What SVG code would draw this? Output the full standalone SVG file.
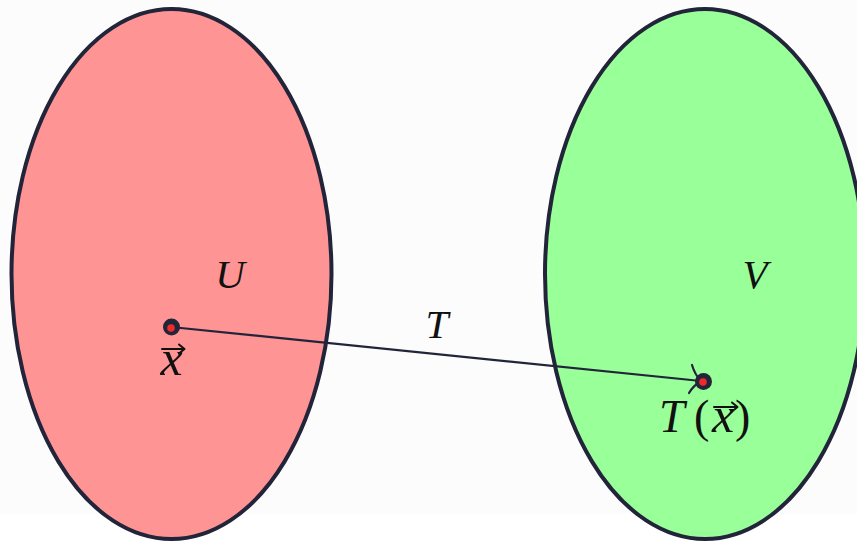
<svg xmlns="http://www.w3.org/2000/svg" width="857" height="542" viewBox="0 0 857 542">
<style>
.set{stroke:#22253a;stroke-width:4}
.lbl{font-family:"Liberation Serif","DejaVu Serif",serif;font-style:italic;font-size:41px;fill:#111;text-anchor:middle}
.big{font-family:"Liberation Serif","DejaVu Serif",serif;font-style:italic;font-size:46px;fill:#111}
.xx{font-family:"Liberation Serif","DejaVu Serif",serif;font-style:italic;font-size:50px;fill:#111;text-anchor:middle}
.up{font-family:"Liberation Serif","DejaVu Serif",serif;font-size:46px;fill:#111}
.vec{fill:none;stroke:#111;stroke-width:2;stroke-linecap:round;stroke-linejoin:round}
.dot{fill:#22253a}
.core{fill:#ee2a2a}
</style>
<rect x="0" y="0" width="857" height="514" fill="#fcfcfc"/>
<rect x="0" y="514" width="857" height="28" fill="#ffffff"/>
<g id="setU">
<ellipse class="set" cx="171.5" cy="274" rx="160" ry="265" fill="#ff9494"/>
<text class="lbl" x="230" y="288">U</text>
</g>
<g id="setV">
<ellipse class="set" cx="705" cy="274" rx="160" ry="265" fill="#99ff99"/>
<text class="lbl" x="755" y="288">V</text>
</g>
<g id="connectors">
<line x1="171" y1="327" x2="701" y2="381" stroke="#22253a" stroke-width="2.2"/>
<path d="M692,365 Q695,375 701,381 Q693,386 689,393" fill="none" stroke="#22253a" stroke-width="2.2" stroke-linecap="round"/>
<text class="lbl" x="437" y="338">T</text>
</g>
<g id="x">
<circle class="dot" cx="171.5" cy="327" r="8.5"/>
<circle class="core" cx="171" cy="328" r="3.8"/>
<text class="xx" x="171.5" y="375">x</text>
<path class="vec" d="M162,349 H184 M179,344.5 L184.5,349 L179,353.5"/>
</g>
<g id="Tx">
<circle class="dot" cx="703.5" cy="381.5" r="8.5"/>
<circle class="core" cx="703" cy="382" r="3.8"/>
<text class="big" x="659" y="432">T</text>
<text class="up" x="694" y="432">(</text>
<text class="xx" x="723" y="432">x</text>
<text class="up" x="735" y="432">)</text>
<path class="vec" d="M714,407 H737 M732,402.5 L737.5,407 L732,411.5"/>
</g>
</svg>
